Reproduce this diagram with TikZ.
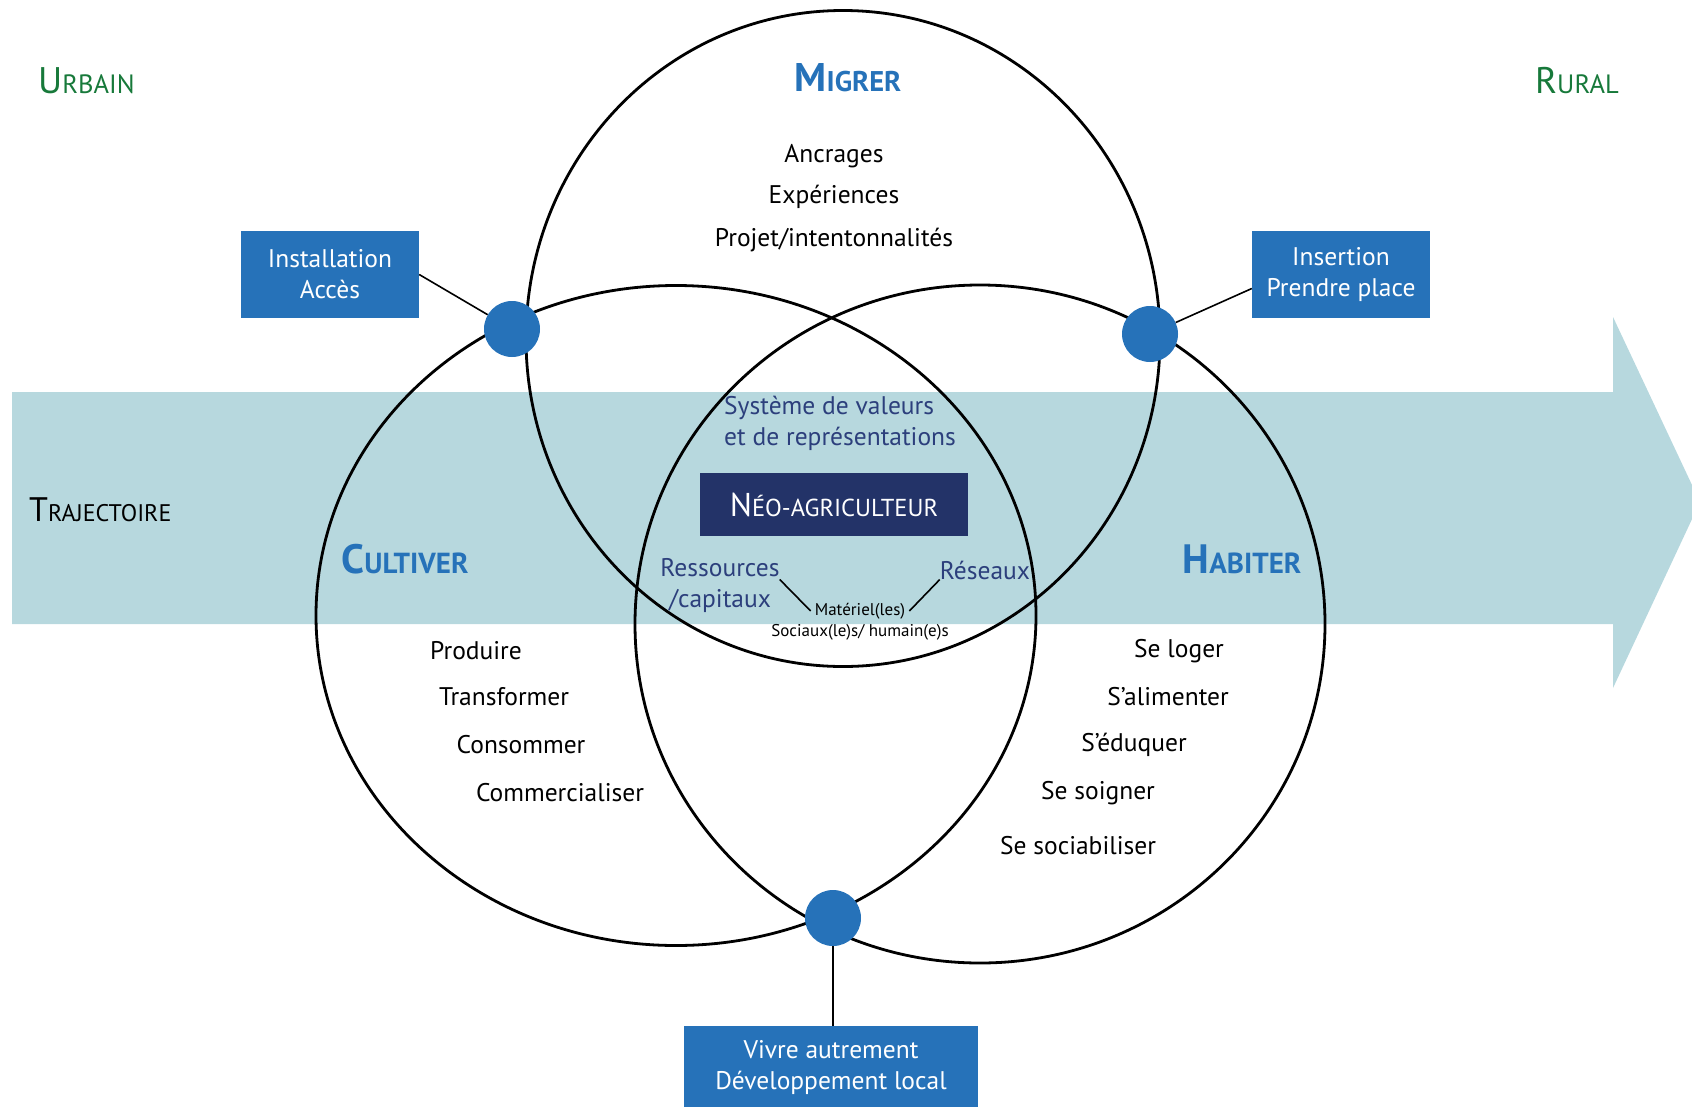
\documentclass[tikz,border=0pt]{standalone}
\usepackage{fontspec}
\setmainfont{PT Sans}
\definecolor{bandteal}{RGB}{183,216,222}
\definecolor{boxblue}{RGB}{38,114,185}
\definecolor{navy}{RGB}{35,51,104}
\definecolor{inkblue}{RGB}{44,63,124}
\definecolor{leafgreen}{RGB}{23,121,58}
% fake small caps: big first letter, smaller capitals after
\newcommand{\capword}[4]{{\fontsize{#1}{#1}\selectfont #3}{\fontsize{#2}{#2}\selectfont #4}}
\tikzset{
  ring/.style={line width=2.8pt},
  link/.style={line width=1.6pt},
  txt/.style={inner sep=0pt, font=\fontsize{25.5}{31}\selectfont},
  bluetxt/.style={txt, text=inkblue, align=center},
  small/.style={inner sep=0pt, font=\fontsize{17}{20}\selectfont},
  box/.style={fill=boxblue, text=white, align=center, inner sep=0pt, font=\fontsize{25.5}{31}\selectfont},
  dot/.style={circle, fill=boxblue, minimum size=56pt, inner sep=0pt},
  title/.style={inner sep=0pt, text=boxblue, font=\bfseries}
}
\begin{document}
\begin{tikzpicture}[x=1pt,y=-1pt]
  \useasboundingbox (0,0) rectangle (1692,1106);
  \fill[bandteal] (12,392) -- (1613,392) -- (1613,317) -- (1700,502) -- (1613,688) -- (1613,624) -- (12,624) -- cycle;

  % the three circles
  \draw[ring] (843,338.5) ellipse [x radius=317, y radius=328];
  \draw[ring] (676,615.5) ellipse [x radius=360, y radius=330];
  \draw[ring] (980,624) ellipse [x radius=345, y radius=339];

  % side words
  \node[inner sep=0pt, text=leafgreen, anchor=west] (urb) at (38,81) {\capword{37}{26.5}{U}{RBAIN}};
  \node[inner sep=0pt, text=leafgreen, anchor=west] (rur) at (1535,81) {\capword{37}{26.5}{R}{URAL}};
  \node[inner sep=0pt, anchor=west] (traj) at (29,510) {\capword{34}{24}{T}{RAJECTOIRE}};

  % titles
  \node[title] (mig) at (848,78) {\capword{40}{28.5}{M}{IGRER}};
  \node[title] (cul) at (405,559) {\capword{41}{29}{C}{ULTIVER}};
  \node[title] (hab) at (1242,559) {\capword{41}{29}{H}{ABITER}};

  \node[txt] (m1) at (834,156) {Ancrages};
  \node[txt] (m2) at (834,197) {Expériences};
  \node[txt] (m3) at (834,240) {Projet/intentonnalités};

  \node[txt] (c1) at (476,651) {Produire};
  \node[txt] (c2) at (504,697) {Transformer};
  \node[txt] (c3) at (521,745) {Consommer};
  \node[txt] (c4) at (560,793) {Commercialiser};

  \node[txt] (h1) at (1179,651) {Se loger};
  \node[txt] (h2) at (1168,697) {S’alimenter};
  \node[txt] (h3) at (1134,745) {S’éduquer};
  \node[txt] (h4) at (1098,793) {Se soigner};
  \node[txt] (h5) at (1078,846) {Se sociabiliser};

  % centre
  \node[bluetxt, align=left, anchor=west] (sys) at (724,423.5) {Système de valeurs\\et de représentations};
  \node[fill=navy, text=white, minimum width=268pt, minimum height=63pt, inner sep=0pt] (neo) at (834,504.5)
    {\capword{33}{24.5}{N}{ÉO-AGRICULTEUR}};
  \node[bluetxt] (res) at (720,585.5) {Ressources\\/capitaux};
  \node[bluetxt] (rsx) at (985,570) {Réseaux};
  \node[small] (mat) at (860,611) {Matériel(les)};
  \node[small] (soc) at (860,632) {Sociaux(le)s/ humain(e)s};
  \draw[link] ([yshift=6pt]res.east) -- ([xshift=-4pt]mat.west);
  \draw[link] (rsx.south west) -- ([xshift=4pt]mat.east);

  % boxes and junction dots
  \node[box, minimum width=178pt, minimum height=87pt] (inst) at (330,274.5) {Installation\\Accès};
  \node[box, minimum width=178pt, minimum height=87pt] (ins) at (1341,274.5) {Insertion\\Prendre place};
  \node[box, minimum width=294pt, minimum height=84pt] (viv) at (831,1068) {Vivre autrement\\Développement local};

  \node[dot] (dl) at (512,329) {};
  \node[dot] (dr) at (1150,334) {};
  \node[dot] (db) at (833,918) {};

  \draw[link] (inst.east) -- (dl);
  \draw[link] ([yshift=-14pt]ins.west) -- (dr);
  \draw[link] (db) -- (db |- viv.north);
\end{tikzpicture}
\end{document}
